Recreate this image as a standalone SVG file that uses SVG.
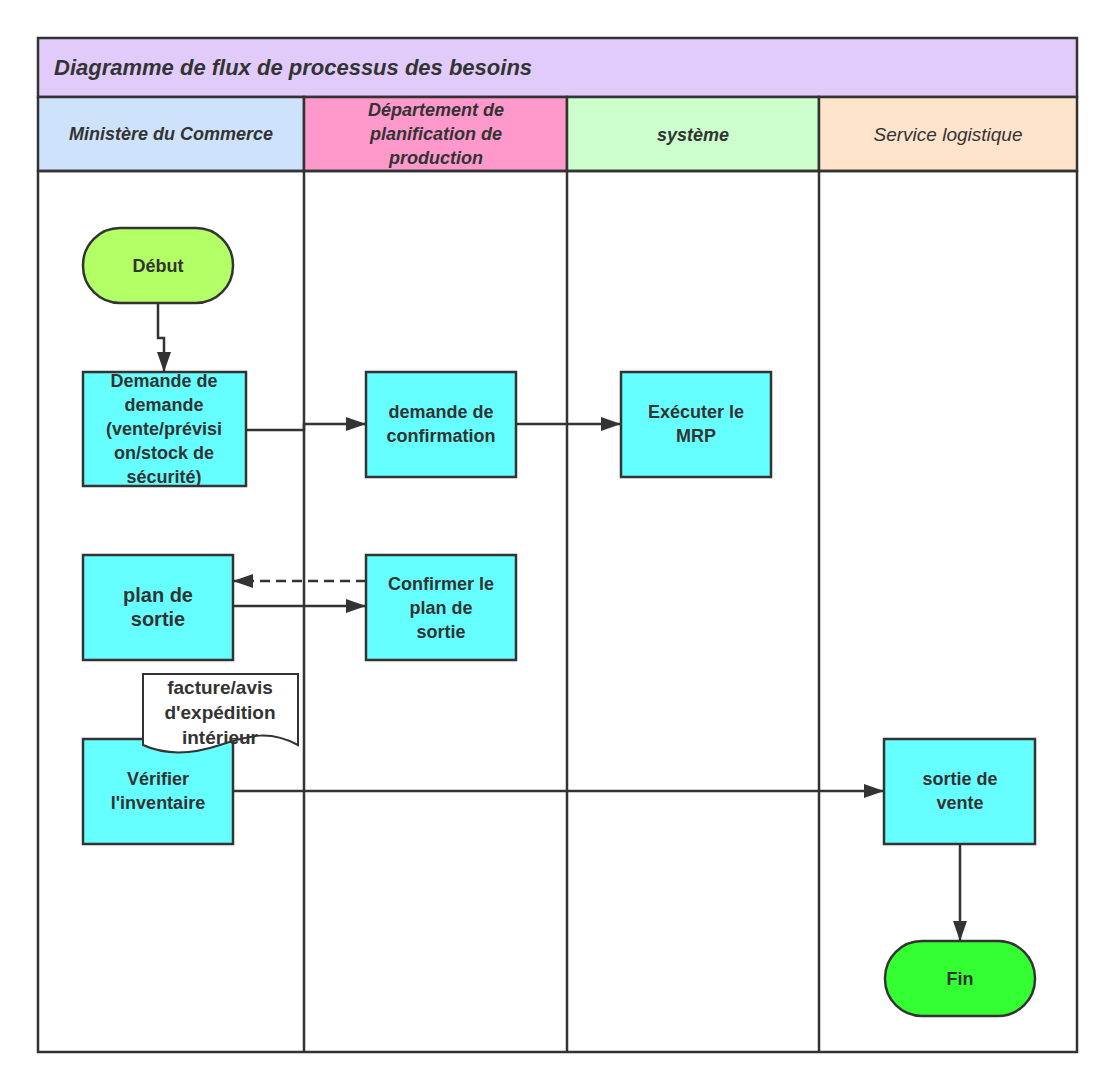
<svg xmlns="http://www.w3.org/2000/svg" width="1114" height="1090" viewBox="0 0 1114 1090">
<defs>
<style>
.ln{fill:none;stroke:#333;stroke-width:2.5}
.bx{stroke:#333;stroke-width:2.5}
.nd{fill:#66ffff;stroke:#333;stroke-width:2.5}
.t{font-family:"Liberation Sans",Arial,sans-serif;font-weight:bold;font-size:18px;fill:#333;text-anchor:middle}
.h{font-family:"Liberation Sans",Arial,sans-serif;font-weight:bold;font-style:italic;font-size:18px;fill:#333;text-anchor:middle}
.c{fill:none;stroke:#333;stroke-width:2.5;marker-end:url(#a)}
</style>
<marker id="a" viewBox="0 0 20 14" refX="19" refY="7" markerWidth="20" markerHeight="14" markerUnits="userSpaceOnUse" orient="auto"><path d="M0,0L20,7L0,14z" fill="#333"/></marker>
</defs>
<rect width="1114" height="1090" fill="#fff"/>
<g id="pool">
<rect x="38" y="38" width="1039" height="59" fill="#e1cbfb" class="bx"/>
<text x="54" y="75" style="font-family:'Liberation Sans',Arial,sans-serif;font-weight:bold;font-style:italic;font-size:22px;fill:#333">Diagramme de flux de processus des besoins</text>
<rect x="38" y="97" width="266" height="74" fill="#cfe2fb" class="bx"/>
<rect x="304" y="97" width="263" height="74" fill="#ff99cc" class="bx"/>
<rect x="567" y="97" width="252" height="74" fill="#ccffcc" class="bx"/>
<rect x="819" y="97" width="258" height="74" fill="#ffe4cc" class="bx"/>
<text class="h" x="171" y="140">Ministère du Commerce</text>
<text class="h" x="436" y="116">Département de</text>
<text class="h" x="436" y="140">planification de</text>
<text class="h" x="436" y="164">production</text>
<text class="h" x="693" y="141">système</text>
<text x="948" y="141" style="font-family:'Liberation Sans',Arial,sans-serif;font-style:italic;font-size:19px;fill:#333;text-anchor:middle">Service logistique</text>
<rect x="38" y="171" width="1039" height="881" class="ln"/>
<path class="ln" d="M304,171V1052M567,171V1052M819,171V1052"/>
</g>
<g id="connectors">
<path class="c" d="M158,303V338H164V371"/>
<path class="c" d="M246,430H304V424H365"/>
<path class="c" d="M516,424H620"/>
<path class="c" d="M366,581H234" stroke-dasharray="10,6"/>
<path class="c" d="M233,606H365"/>
<path class="c" d="M233,791L883,791"/>
<path class="c" d="M960,844V940"/>
</g>
<g id="debut"><rect x="83" y="228" width="150" height="75" rx="37" fill="#b3ff66" class="bx"/><text class="t" x="158" y="272">Début</text></g>
<g id="demande"><rect class="nd" x="83" y="372" width="163" height="114"/>
<text class="t" x="164" y="387">Demande de</text><text class="t" x="164" y="411">demande</text><text class="t" x="164" y="435">(vente/prévisi</text><text class="t" x="164" y="459">on/stock de</text><text class="t" x="164" y="483">sécurité)</text></g>
<g id="confirmation"><rect class="nd" x="366" y="372" width="150" height="105"/><text class="t" x="441" y="418">demande de</text><text class="t" x="441" y="442">confirmation</text></g>
<g id="mrp"><rect class="nd" x="621" y="372" width="150" height="105"/><text class="t" x="696" y="418">Exécuter le</text><text class="t" x="696" y="442">MRP</text></g>
<g id="plan"><rect class="nd" x="83" y="555" width="150" height="105"/><text class="t" x="158" y="602" style="font-size:20px">plan de</text><text class="t" x="158" y="626" style="font-size:20px">sortie</text></g>
<g id="confplan"><rect class="nd" x="366" y="555" width="150" height="105"/><text class="t" x="441" y="590">Confirmer le</text><text class="t" x="441" y="614">plan de</text><text class="t" x="441" y="638">sortie</text></g>
<g id="verifier"><rect class="nd" x="83" y="739" width="150" height="105"/><text class="t" x="158" y="785">Vérifier</text><text class="t" x="158" y="809">l'inventaire</text></g>
<g id="facture"><path d="M143,674H298V745C270,730 250,735 220,745C190,755 165,755 143,745Z" fill="#fff" stroke="#333" stroke-width="2"/>
<text class="t" x="220" y="694" style="font-size:19px">facture/avis</text><text class="t" x="220" y="719" style="font-size:19px">d'expédition</text><text class="t" x="220" y="744" style="font-size:19px">intérieur</text></g>
<g id="vente"><rect class="nd" x="884" y="739" width="151" height="105"/><text class="t" x="960" y="785">sortie de</text><text class="t" x="960" y="809">vente</text></g>
<g id="fin"><rect x="885" y="941" width="150" height="75" rx="37" fill="#33ff33" class="bx"/><text class="t" x="960" y="985">Fin</text></g>
</svg>
